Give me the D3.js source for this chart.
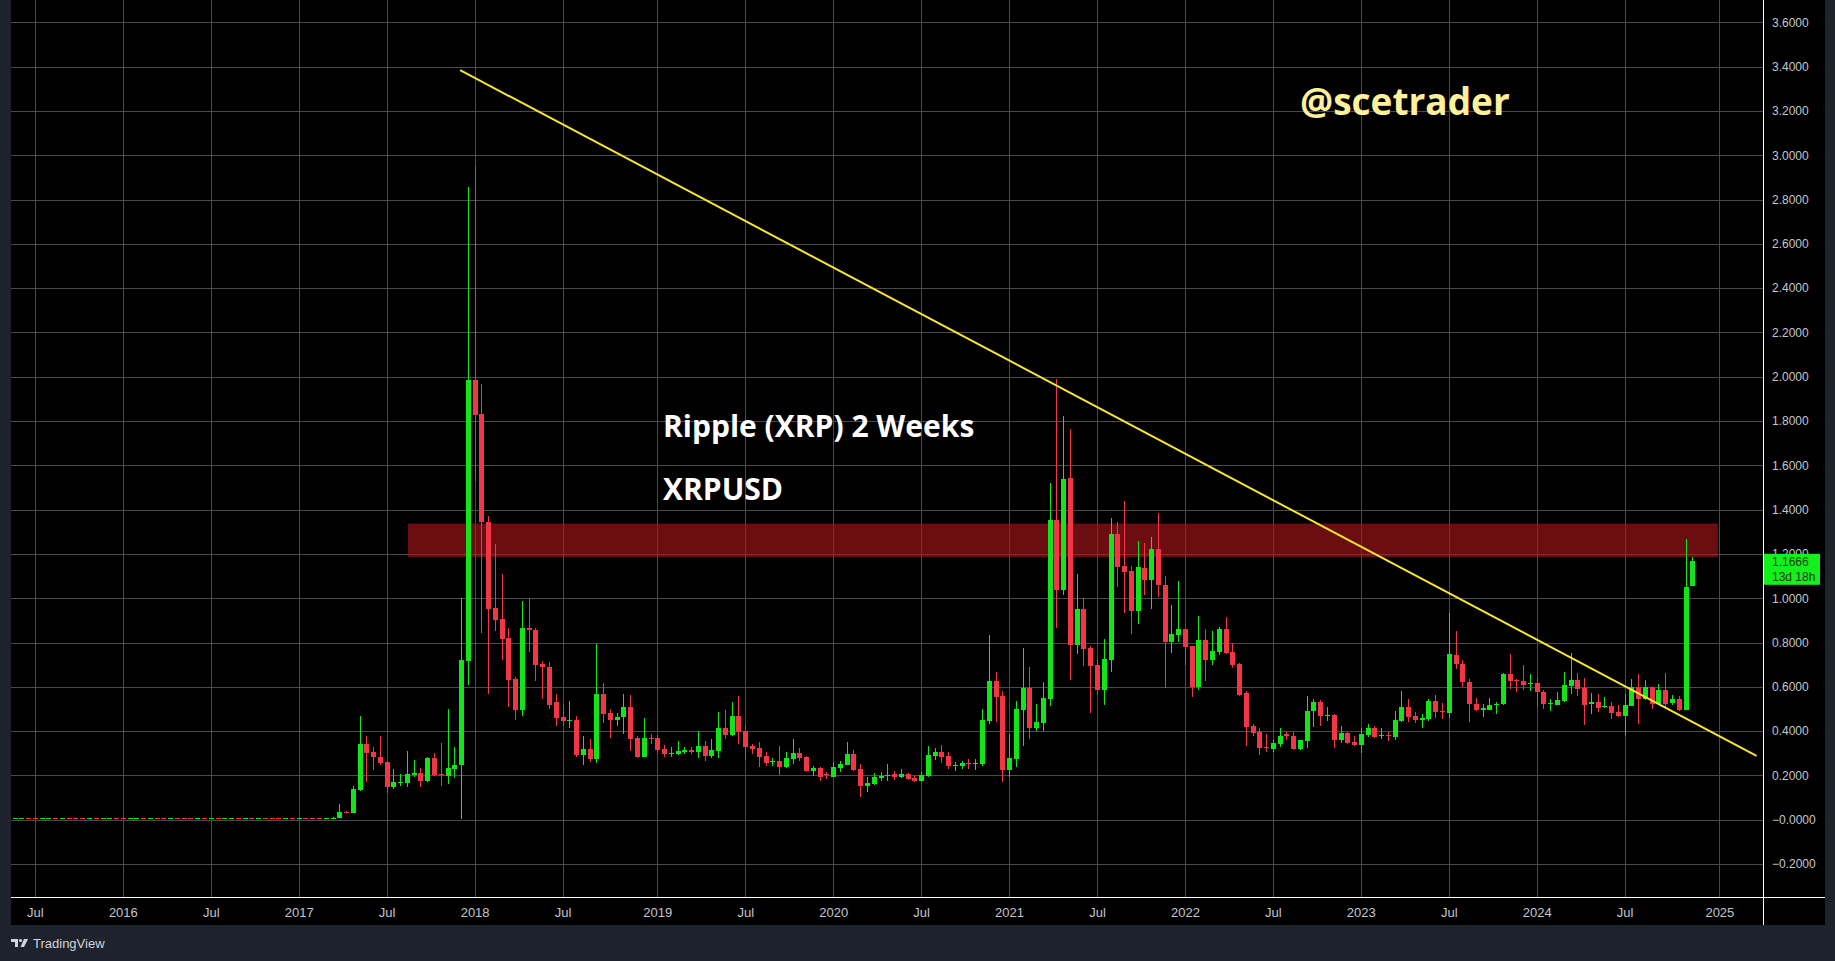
<!DOCTYPE html>
<html><head><meta charset="utf-8">
<script src="https://cdn.jsdelivr.net/npm/d3@7"></script>
<style>
html,body{margin:0;padding:0;background:#1e222d;overflow:hidden;}
svg{display:block;}
</style></head><body>
<svg id="chart" width="1835" height="961"></svg>
<script>
// ---------------- DATA ----------------
const firstBarDate = "2015-05-18";   // 2-week bars, one every 14 days
const barStepDays = 14;
const opens = [
.0080,.0086,.0090,.0085,.0082,.0086,.0088,.0083,.0087,.0074,
.0061,.0057,.0059,.0055,.0058,.0061,.0058,.0056,.0063,.0083,
.0080,.0086,.0081,.0064,.0066,.0061,.0060,.0058,.0062,.0059,
.0061,.0058,.0060,.0062,.0059,.0082,.0080,.0086,.0083,.0079,
.0064,.0066,.0063,.0066,.0063,.0062,.0060,.0068,.0095,.0330,
.0300,.1320,.3400,.3040,.2850,.2590,.1480,.1680,.1640,.2000,
.2130,.1750,.2780,.2050,.1980,.2300,.2470,.7160,1.986,1.832,
1.346,.957,.904,.820,.633,.494,.864,.858,.703,.691,
.530,.462,.448,.452,.291,.321,.272,.566,.481,.448,
.465,.508,.367,.283,.371,.367,.318,.297,.295,.304,
.315,.304,.331,.286,.309,.413,.381,.467,.399,.331,
.322,.286,.259,.264,.236,.273,.300,.282,.218,.232,
.205,.191,.232,.245,.295,.227,.150,.160,.187,.197,
.205,.191,.205,.187,.173,.196,.286,.304,.286,.241,
.241,.254,.250,.250,.444,.625,.557,.223,.272,.496,
.594,.413,.436,.546,1.352,1.037,1.541,.789,.950,.776,
.699,.586,.722,1.289,1.146,1.123,.943,1.137,1.083,1.222,
1.060,.803,.834,.860,.785,.600,.812,.722,.758,.860,
.758,.704,.573,.421,.394,.326,.319,.340,.385,.376,
.319,.355,.490,.533,.467,.472,.359,.391,.350,.337,
.382,.412,.377,.381,.373,.445,.508,.467,.452,.454,
.538,.490,.481,.745,.704,.623,.524,.494,.497,.517,
.521,.659,.629,.625,.611,.616,.578,.521,.519,.537,
.605,.632,.596,.524,.530,.510,.514,.487,.469,.514,
.600,.546,.600,.524,.587,.528,.546,.496,1.054];
const highs = [
.0090,.0095,.0098,.0088,.0090,.0091,.0090,.0089,.0088,.0076,
.0063,.0061,.0060,.0059,.0068,.0062,.0059,.0065,.0088,.0087,
.0090,.0088,.0083,.0068,.0068,.0063,.0062,.0064,.0066,.0063,
.0062,.0061,.0063,.0063,.0088,.0089,.0090,.0088,.0085,.0081,
.0068,.0072,.0068,.0067,.0070,.0064,.0072,.0110,.0710,.0380,
.150,.470,.380,.327,.376,.267,.228,.205,.308,.268,
.232,.281,.300,.346,.498,.327,1.000,2.857,2.950,1.969,
1.369,1.245,1.107,.864,.642,.986,.999,.864,.716,.710,
.566,.522,.538,.469,.376,.365,.792,.619,.501,.481,
.566,.562,.377,.458,.386,.383,.336,.327,.354,.327,
.327,.399,.354,.363,.485,.494,.530,.557,.426,.340,
.349,.304,.277,.331,.304,.363,.322,.286,.241,.236,
.214,.259,.264,.349,.313,.250,.191,.209,.214,.250,
.218,.227,.209,.196,.214,.331,.322,.336,.304,.259,
.264,.273,.273,.499,.833,.666,.580,.386,.535,.774,
.689,.522,.621,1.519,1.988,1.821,1.765,1.108,1.003,.785,
.722,.816,1.361,1.343,1.438,1.146,1.257,1.250,1.275,1.383,
1.101,.970,1.077,.861,.785,.919,.860,.852,.870,.914,
.800,.708,.582,.434,.416,.389,.362,.412,.395,.394,
.362,.560,.547,.539,.511,.479,.421,.398,.376,.412,
.434,.421,.412,.398,.493,.583,.547,.488,.476,.547,
.565,.529,.934,.853,.722,.637,.551,.524,.551,.533,
.664,.749,.637,.700,.659,.641,.587,.546,.578,.668,
.751,.664,.641,.573,.569,.555,.533,.519,.569,.637,
.659,.632,.600,.614,.664,.564,.560,1.268,1.186];
const lows = [
.0078,.0083,.0082,.0080,.0080,.0083,.0080,.0081,.0070,.0058,
.0055,.0055,.0052,.0054,.0056,.0056,.0054,.0055,.0062,.0077,
.0079,.0078,.0062,.0060,.0060,.0058,.0057,.0057,.0058,.0058,
.0057,.0057,.0059,.0058,.0058,.0078,.0079,.0080,.0077,.0062,
.0061,.0062,.0062,.0061,.0060,.0059,.0059,.0066,.0090,.0290,
.0290,.128,.170,.224,.247,.121,.138,.154,.148,.194,
.148,.171,.196,.152,.162,.188,.004,.608,1.528,.845,
.566,.851,.722,.511,.452,.467,.756,.627,.543,.500,
.424,.424,.416,.281,.247,.261,.257,.435,.369,.424,
.386,.310,.279,.283,.342,.306,.283,.283,.291,.295,
.295,.277,.264,.279,.277,.363,.377,.340,.268,.295,
.236,.241,.241,.200,.232,.250,.264,.214,.196,.173,
.182,.191,.214,.245,.218,.101,.123,.155,.173,.173,
.178,.189,.178,.169,.171,.191,.268,.254,.227,.218,
.227,.227,.223,.241,.431,.440,.169,.191,.236,.334,
.365,.401,.401,.514,.866,1.013,.631,.749,.695,.482,
.564,.519,.667,1.051,.934,.839,.884,1.015,.952,1.006,
.595,.753,.803,.699,.555,.586,.627,.699,.744,.749,
.686,.559,.334,.379,.292,.305,.305,.328,.361,.315,
.314,.323,.418,.422,.445,.323,.346,.342,.334,.300,
.373,.370,.364,.355,.359,.440,.440,.436,.413,.445,
.458,.454,.458,.679,.598,.440,.490,.463,.494,.476,
.519,.589,.575,.584,.580,.508,.498,.489,.517,.530,
.569,.560,.429,.478,.487,.505,.456,.462,.379,.514,
.433,.542,.501,.524,.505,.519,.492,.496,1.054];
const closes = [
.0086,.0090,.0085,.0082,.0086,.0088,.0083,.0087,.0074,.0061,
.0057,.0059,.0055,.0058,.0061,.0058,.0056,.0063,.0083,.0080,
.0086,.0081,.0064,.0066,.0061,.0060,.0058,.0062,.0059,.0061,
.0058,.0060,.0062,.0059,.0082,.0080,.0086,.0083,.0079,.0064,
.0066,.0063,.0066,.0063,.0062,.0060,.0068,.0095,.0327,.0315,
.137,.340,.300,.281,.255,.148,.169,.171,.205,.213,
.175,.278,.200,.200,.232,.247,.722,1.986,1.828,1.342,
.953,.902,.815,.629,.494,.864,.858,.699,.688,.520,
.460,.445,.452,.291,.321,.276,.566,.475,.448,.465,
.507,.364,.283,.367,.367,.315,.295,.299,.309,.313,
.304,.331,.286,.313,.413,.381,.467,.395,.327,.318,
.282,.254,.264,.236,.277,.300,.277,.218,.232,.191,
.200,.236,.250,.295,.223,.150,.164,.191,.196,.200,
.191,.205,.182,.173,.200,.291,.304,.282,.241,.245,
.254,.250,.254,.449,.625,.553,.223,.277,.499,.594,
.413,.440,.549,1.352,1.037,1.537,.789,.950,.771,.695,
.586,.726,1.289,1.141,1.119,.943,1.141,1.083,1.222,1.060,
.803,.837,.860,.780,.600,.812,.722,.762,.860,.753,
.699,.564,.419,.392,.323,.323,.346,.380,.380,.319,
.358,.493,.533,.467,.472,.359,.391,.346,.337,.386,
.412,.373,.381,.377,.448,.508,.463,.449,.458,.538,
.485,.485,.749,.701,.620,.521,.494,.503,.520,.524,
.659,.625,.625,.607,.616,.575,.521,.525,.542,.609,
.632,.591,.519,.530,.505,.514,.483,.469,.519,.600,
.546,.600,.524,.587,.524,.546,.496,1.051,1.1666];

const priceTicks = [-0.2,0,0.2,0.4,0.6,0.8,1.0,1.2,1.4,1.6,1.8,2.0,2.2,2.4,2.6,2.8,3.0,3.2,3.4,3.6];
const priceTickLabels = ["\u22120.2000","\u22120.0000","0.2000","0.4000","0.6000","0.8000","1.0000","1.2000","1.4000","1.6000","1.8000","2.0000","2.2000","2.4000","2.6000","2.8000","3.0000","3.2000","3.4000","3.6000"];
const timeTickDates = ["2015-06-29","2015-12-28","2016-06-27","2016-12-26","2017-06-26","2017-12-25","2018-06-25","2019-01-07","2019-07-08","2020-01-06","2020-07-06","2021-01-04","2021-07-05","2022-01-03","2022-07-04","2023-01-02","2023-07-03","2024-01-01","2024-07-01","2025-01-13"];
const timeTickLabels = ["Jul","2016","Jul","2017","Jul","2018","Jul","2019","Jul","2020","Jul","2021","Jul","2022","Jul","2023","Jul","2024","Jul","2025"];
const zoneDates = ["2017-08-09","2025-01-10"];
const zonePrices = [1.185, 1.337];
const trendDates = ["2017-11-25","2025-03-31"];
const trendPrices = [3.384, 0.288];
const lastPriceText = "1.1666";
const countdownText = "13d 18h";
const titleLines = ["Ripple (XRP) 2 Weeks","XRPUSD"];
const watermark = "@scetrader";
const brand = "TradingView";

// ---------------- LAYOUT ----------------
const W = 1835, H = 961;
const panel = {left: 11, right: 1825, top: 0, bottom: 925};
const plot = {left: 11, right: 1763, top: 0, bottom: 897};
const green = "#12e61a", red = "#f23645";
const gridColor = "#4a4a4a";
const parse = d3.utcParse("%Y-%m-%d");

const t0 = parse(firstBarDate);
const bars = opens.map((o, i) => ({
  date: d3.utcDay.offset(t0, i * barStepDays),
  o, h: highs[i], l: lows[i], c: closes[i]
}));

const x = d3.scaleUtc()
  .domain([bars[0].date, bars[bars.length - 1].date])
  .range([14.6, 1692.3]);
const y = d3.scaleLinear().domain([-0.2, 3.6]).range([864.0, 22.3]);

const svg = d3.select("#chart");
svg.append("rect").attr("width", W).attr("height", H).attr("fill", "#1e222d");
svg.append("rect").attr("x", panel.left).attr("y", panel.top)
  .attr("width", panel.right - panel.left).attr("height", panel.bottom - panel.top)
  .attr("fill", "#000");

svg.append("defs").append("clipPath").attr("id", "plotclip")
  .append("rect").attr("x", plot.left).attr("y", plot.top)
  .attr("width", plot.right - plot.left).attr("height", plot.bottom - plot.top);

const tickDates = timeTickDates.map(parse);

// grid
const grid = svg.append("g").attr("shape-rendering", "crispEdges");
grid.selectAll("line.h").data(priceTicks).join("line")
  .attr("x1", plot.left).attr("x2", plot.right)
  .attr("y1", d => Math.round(y(d)) + 0.5).attr("y2", d => Math.round(y(d)) + 0.5)
  .attr("stroke", gridColor);
grid.selectAll("line.v").data(tickDates).join("line")
  .attr("x1", d => Math.round(x(d)) + 0.5).attr("x2", d => Math.round(x(d)) + 0.5)
  .attr("y1", plot.top).attr("y2", plot.bottom)
  .attr("stroke", gridColor);

const plotG = svg.append("g").attr("clip-path", "url(#plotclip)");

// resistance zone
plotG.append("rect")
  .attr("x", x(parse(zoneDates[0])))
  .attr("width", x(parse(zoneDates[1])) - x(parse(zoneDates[0])))
  .attr("y", y(zonePrices[1]))
  .attr("height", y(zonePrices[0]) - y(zonePrices[1]))
  .attr("fill", "#b3161c").attr("fill-opacity", 0.6);

// candles
const cg = plotG.append("g").attr("shape-rendering", "crispEdges");
const candle = cg.selectAll("g").data(bars).join("g");
candle.append("line")
  .attr("x1", d => Math.round(x(d.date)) + 0.5).attr("x2", d => Math.round(x(d.date)) + 0.5)
  .attr("y1", d => y(d.h)).attr("y2", d => y(d.l))
  .attr("stroke", d => d.c >= d.o ? green : red).attr("stroke-width", 1);
candle.append("rect")
  .attr("x", d => Math.round(x(d.date)) - 2)
  .attr("width", 5)
  .attr("y", d => y(Math.max(d.o, d.c)))
  .attr("height", d => Math.max(1, Math.abs(y(d.o) - y(d.c))))
  .attr("fill", d => d.c >= d.o ? green : red);

// trend line
plotG.append("line")
  .attr("x1", x(parse(trendDates[0]))).attr("y1", y(trendPrices[0]))
  .attr("x2", x(parse(trendDates[1]))).attr("y2", y(trendPrices[1]))
  .attr("stroke", "#f7e536").attr("stroke-width", 2);

// texts
const txt = svg.append("g").attr("font-family", "'Open Sans', 'Noto Sans', sans-serif");
txt.append("text").attr("x", 663).attr("y", 437).attr("fill", "#ffffff")
  .attr("font-size", 30).attr("font-weight", 700).text(titleLines[0]);
txt.append("text").attr("x", 663).attr("y", 500).attr("fill", "#ffffff")
  .attr("font-size", 30).attr("font-weight", 700).text(titleLines[1]);
txt.append("text").attr("x", 1300).attr("y", 115).attr("fill", "#fff09a")
  .attr("font-size", 37).attr("font-weight", 700).text(watermark);

// price axis
const yAxis = d3.axisRight(y).tickValues(priceTicks)
  .tickFormat((d, i) => priceTickLabels[i]).tickSize(0).tickPadding(9);
const ya = svg.append("g").attr("transform", `translate(${plot.right},0)`).call(yAxis);
ya.select(".domain").remove();
ya.selectAll("text").attr("fill", "#c3c6ce").attr("font-size", 12)
  .attr("font-family", "'Liberation Sans', Arial, sans-serif");

// time axis
const xAxis = d3.axisBottom(x).tickValues(tickDates)
  .tickFormat((d, i) => timeTickLabels[i]).tickSize(0).tickPadding(10.5);
const xa = svg.append("g").attr("transform", `translate(0,${plot.bottom})`).call(xAxis);
xa.select(".domain").remove();
xa.selectAll("text").attr("fill", "#c3c6ce").attr("font-size", 13)
  .attr("font-family", "'Liberation Sans', Arial, sans-serif");

// borders
svg.append("line").attr("x1", plot.right + 0.5).attr("x2", plot.right + 0.5)
  .attr("y1", 0).attr("y2", panel.bottom).attr("stroke", "#ffffff");
svg.append("line").attr("x1", panel.left).attr("x2", panel.right)
  .attr("y1", plot.bottom + 0.5).attr("y2", plot.bottom + 0.5).attr("stroke", "#ffffff");

// last price label
const lastBar = bars[bars.length - 1];
const ly = y(lastBar.c);
const lab = svg.append("g");
lab.append("rect").attr("x", plot.right + 1).attr("y", ly - 7.5)
  .attr("width", 56).attr("height", 31).attr("fill", "#14f01c");
lab.append("text").attr("x", 1772).attr("y", ly + 4.5).attr("fill", "#0b3d10")
  .attr("font-size", 12).attr("font-family", "'Liberation Sans', Arial, sans-serif").text(lastPriceText);
lab.append("text").attr("x", 1772).attr("y", ly + 19.5).attr("fill", "#0b3d10")
  .attr("font-size", 12).attr("font-family", "'Liberation Sans', Arial, sans-serif").text(countdownText);

// TradingView brand
const bg = svg.append("g").attr("fill", "#d1d4dc");
bg.append("path").attr("d", "M11,939 h7 v8 h-3 v-5 h-4 z");
bg.append("circle").attr("cx", 20.5).attr("cy", 940.5).attr("r", 1.6);
bg.append("path").attr("d", "M24,939 h4 l-4,8 h-3.5 z");
bg.append("text").attr("x", 33).attr("y", 947.5).attr("font-size", 13)
  .attr("font-family", "'Liberation Sans', Arial, sans-serif").text(brand);
</script>
</body></html>
